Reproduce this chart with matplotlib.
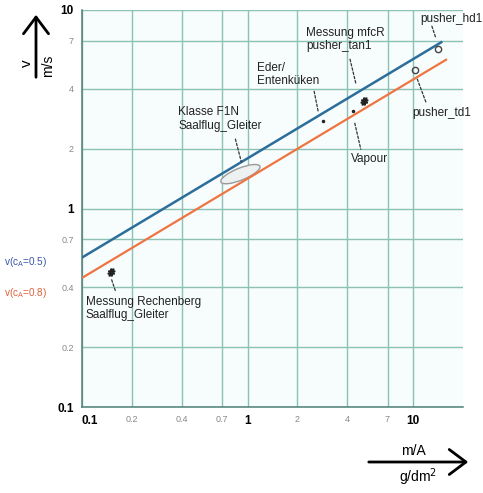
import matplotlib
matplotlib.use("Agg")
import matplotlib.pyplot as plt
from matplotlib.patches import Ellipse
from matplotlib.transforms import offset_copy, ScaledTranslation

plt.rcParams['font.family'] = ['Liberation Sans', 'DejaVu Sans']

# ---------------- data ----------------
line05_x = [0.1, 15.0]
line05_v = [0.566, 6.93]
line08_x = [0.1, 16.0]
line08_v = [0.447, 5.65]

pt_names = ["pusher_hd1", "pusher_td1", "Messung mfcR\npusher_tan1", "Vapour",
            "Eder/\nEntenküken", "Messung Rechenberg\nSaalflug_Gleiter"]
pt_x = [14.1, 10.3, 5.05, 4.32, 2.86, 0.149]
pt_v = [6.35, 4.98, 3.47, 3.09, 2.75, 0.48]
pt_marker = ["o", "o", "#", ".", ".", "#"]

f1n_name = "Klasse F1N\nSaalflug_Gleiter"
f1n_x = 0.905
f1n_v = 1.49

tick_vals = [0.1, 0.2, 0.4, 0.7, 1, 2, 4, 7, 10]
tick_labels = ["0.1", "0.2", "0.4", "0.7", "1", "2", "4", "7", "10"]
major_labels = {"0.1", "1", "10"}

# ---------------- layout (pixel offsets relative to points) ----------------
# (label dx, dy), (leader start dx, dy), (leader end dx, dy)  in pixels, y up
pt_layout = [
    ((-18, 30), (-6, 23), (-2, 11)),
    ((-3, -43), (2, -9), (11, -33)),
    ((-58, 62), (-14, 42), (-8, 17)),
    ((-2, -48), (2, -12), (8, -38)),
    ((-66, 47), (-9, 30), (-5, 10)),
    ((-25, -37), (1, -8), (5, -20)),
]
f1n_layout = ((-62, 55), (-5, 35), (1, 12))

W, H = 483, 493
fig = plt.figure(figsize=(W / 100, H / 100), dpi=100)
ax = fig.add_axes([82 / W, (H - 407) / H, 381 / W, 397 / H])
ax.set_xscale('log')
ax.set_yscale('log')
ax.set_xlim(0.1, 20)
ax.set_ylim(0.1, 10)
ax.set_facecolor('#f7fcfc')

grid_c = '#8cc2b3'
ax.set_xticks(tick_vals)
ax.set_yticks(tick_vals)
ax.set_xticks([], minor=True)
ax.set_yticks([], minor=True)
ax.set_xticklabels(tick_labels)
ax.set_yticklabels(tick_labels)
ax.grid(True, color=grid_c, lw=1.0)
ax.tick_params(length=0, pad=6)
for lab in ax.get_xticklabels() + ax.get_yticklabels():
    if lab.get_text() in major_labels:
        lab.set_fontweight('bold')
        lab.set_fontsize(8.5)
        lab.set_color('black')
    else:
        lab.set_fontsize(6.5)
        lab.set_color('#888888')
xl = ax.get_xticklabels()
xl[0].set_horizontalalignment('left')

for s in ['top', 'right']:
    ax.spines[s].set_visible(False)
for s in ['left', 'bottom']:
    ax.spines[s].set_color('#4f7f76')
    ax.spines[s].set_linewidth(1.1)

# lines
ax.plot(line05_x, line05_v, color='#2c6e9b', lw=1.8, zorder=3, solid_capstyle='butt')
ax.plot(line08_x, line08_v, color='#ee7540', lw=1.6, zorder=3, solid_capstyle='butt')

# ellipse for F1N class
ell = Ellipse((0, 0), 0.42, 0.12, angle=22, facecolor='#eef1f1', edgecolor='#9a9a9a',
              lw=1.0, zorder=2,
              transform=fig.dpi_scale_trans + ScaledTranslation(f1n_x, f1n_v, ax.transData))
ax.add_patch(ell)

def leader(x, y, start, end):
    ax.annotate('', xy=(x, y), xycoords=offset_copy(ax.transData, fig=fig, x=end[0], y=end[1], units='dots'),
                xytext=(x, y), textcoords=offset_copy(ax.transData, fig=fig, x=start[0], y=start[1], units='dots'),
                arrowprops=dict(arrowstyle='-', color='#333333', lw=0.9, linestyle=(0, (2, 1.5)),
                                shrinkA=0, shrinkB=0), zorder=4)

def label(x, y, txt, off):
    ax.annotate(txt, xy=(x, y), xytext=off, textcoords='offset pixels', ha='left', va='center',
                fontsize=8.5, color='#222222', linespacing=1.15, zorder=5, annotation_clip=False)

for name, x, v, m, (lo, ls, le) in zip(pt_names, pt_x, pt_v, pt_marker, pt_layout):
    if m == 'o':
        ax.plot([x], [v], marker='o', ms=4.5, mfc='none', mec='#444444', mew=1.0, zorder=5)
    elif m == '#':
        ax.plot([x], [v], marker='$\\#$', ms=5, color='#222222', zorder=5)
    else:
        ax.plot([x], [v], marker='.', ms=3, color='#222222', zorder=5)
    leader(x, v, ls, le)
    label(x, v, name, lo)

lo, ls, le = f1n_layout
leader(f1n_x, f1n_v, ls, le)
label(f1n_x, f1n_v, f1n_name, lo)

# line labels on the left
fig.text(4 / W, (H - 262) / H, 'v(c$_\\mathrm{A}$=0.5)', color='#3a55a5', fontsize=7.2, va='center', ha='left')
fig.text(4 / W, (H - 293) / H, 'v(c$_\\mathrm{A}$=0.8)', color='#e0603a', fontsize=7.2, va='center', ha='left')

# y axis arrow and label
fig.add_artist(matplotlib.patches.FancyArrowPatch((36 / W, (H - 80) / H), (36 / W, (H - 12) / H),
               transform=fig.transFigure, arrowstyle='->,head_width=9,head_length=12',
               color='black', lw=2.0, mutation_scale=1))
fig.text(27 / W, (H - 63) / H, 'v', rotation=90, fontsize=11, ha='center', va='center')
fig.text(48 / W, (H - 66) / H, 'm/s', rotation=90, fontsize=10, ha='center', va='center')

# x axis arrow and label
fig.add_artist(matplotlib.patches.FancyArrowPatch((366 / W, (H - 462) / H), (471 / W, (H - 462) / H),
               transform=fig.transFigure, arrowstyle='->,head_width=9,head_length=12',
               color='black', lw=2.0, mutation_scale=1))
fig.text(413 / W, (H - 451) / H, 'm/A', fontsize=10, ha='center', va='center')
fig.text(418 / W, (H - 477) / H, 'g/dm$^2$', fontsize=10, ha='center', va='center')

fig.savefig('out.png', dpi=100)
